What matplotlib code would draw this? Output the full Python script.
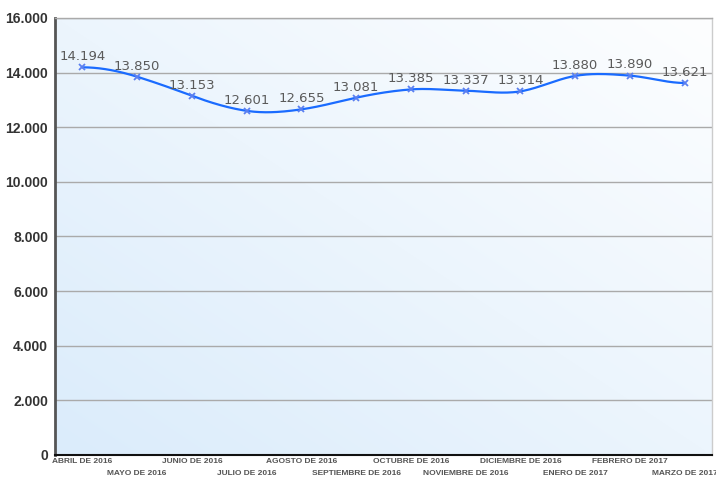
import numpy as np
import matplotlib
matplotlib.use("Agg")
import matplotlib.pyplot as plt
from matplotlib.ticker import FuncFormatter

months = ["ABRIL DE 2016", "MAYO DE 2016", "JUNIO DE 2016", "JULIO DE 2016",
          "AGOSTO DE 2016", "SEPTIEMBRE DE 2016", "OCTUBRE DE 2016",
          "NOVIEMBRE DE 2016", "DICIEMBRE DE 2016", "ENERO DE 2017",
          "FEBRERO DE 2017", "MARZO DE 2017"]
values = [14194, 13850, 13153, 12601, 12655, 13081, 13385, 13337, 13314,
          13880, 13890, 13621]
yticks = [0, 2000, 4000, 6000, 8000, 10000, 12000, 14000, 16000]


def fmt(v):
    return f"{int(v):,}".replace(",", ".")


fig = plt.figure(figsize=(7.16, 4.79), dpi=100)
ax = fig.add_axes([55 / 716, 1 - 455 / 479, (712 - 55) / 716, (455 - 18) / 479])

# gradient background
xx, yy = np.meshgrid(np.linspace(0, 1, 50), np.linspace(1, 0, 50))
t = (xx + yy) / 2
c0 = np.array([0xdb, 0xec, 0xfb]) / 255
c1 = np.array([0xfd, 0xfe, 0xff]) / 255
grad = c0[None, None, :] * (1 - t[..., None]) + c1[None, None, :] * t[..., None]
ax.imshow(grad, extent=[0, 1, 0, 1], transform=ax.transAxes, aspect="auto",
          zorder=0, interpolation="bilinear")

x = np.arange(len(values))
y = np.array(values, dtype=float)

# smooth spline through data (Highcharts-like smoothing)
xs, ys = [], []
n = len(y)
m = np.zeros(n)
for i in range(1, n - 1):
    m[i] = 1.2 * (y[i + 1] - y[i - 1]) / 2
for i in range(n - 1):
    tt = np.linspace(0, 1, 30)
    h00 = 2 * tt**3 - 3 * tt**2 + 1
    h10 = tt**3 - 2 * tt**2 + tt
    h01 = -2 * tt**3 + 3 * tt**2
    h11 = tt**3 - tt**2
    xs.append(x[i] + tt)
    ys.append(h00 * y[i] + h10 * m[i] + h01 * y[i + 1] + h11 * m[i + 1])
xs = np.concatenate(xs)
ys = np.concatenate(ys)

ax.plot(xs, ys, color="#1a6bff", lw=1.6, zorder=3, solid_capstyle="round")
ax.plot(x, y, ls="none", marker="x", ms=5, mew=1.3, color="#5a7ff0", zorder=4)

for xi, yi in zip(x, y):
    ax.annotate(fmt(yi), (xi, yi), xytext=(0, 3), textcoords="offset points",
                ha="center", va="bottom", fontsize=9.5, color="#5a5a5a",
                family="DejaVu Sans", zorder=5)

ax.set_xlim(-0.5, n - 0.5)
ax.set_ylim(0, 16000)
ax.set_yticks(yticks)
ax.yaxis.set_major_formatter(FuncFormatter(lambda v, p: fmt(v)))
ax.grid(axis="y", color="#aaaaaa", lw=1, zorder=1)
ax.set_axisbelow(True)

ax.set_xticks(x)
ax.set_xticklabels(months, fontsize=6, fontweight="bold", color="#555555",
                   family="Liberation Sans")
for i, tk in enumerate(ax.xaxis.get_major_ticks()):
    tk.set_pad(2 if i % 2 == 0 else 10.5)
ax.tick_params(axis="x", length=0)
ax.tick_params(axis="y", length=0, pad=5)
for lab in ax.get_yticklabels():
    lab.set_fontsize(10)
    lab.set_fontweight("bold")
    lab.set_color("#333333")
    lab.set_family("Liberation Sans")

ax.spines["left"].set_color("#555555")
ax.spines["left"].set_linewidth(2)
ax.spines["bottom"].set_color("#111111")
ax.spines["bottom"].set_linewidth(1.5)
ax.spines["top"].set_color("#aaaaaa")
ax.spines["right"].set_color("#cccccc")
ax.spines["top"].set_linewidth(1)
ax.spines["right"].set_linewidth(1)

fig.savefig("out.png", dpi=100)
